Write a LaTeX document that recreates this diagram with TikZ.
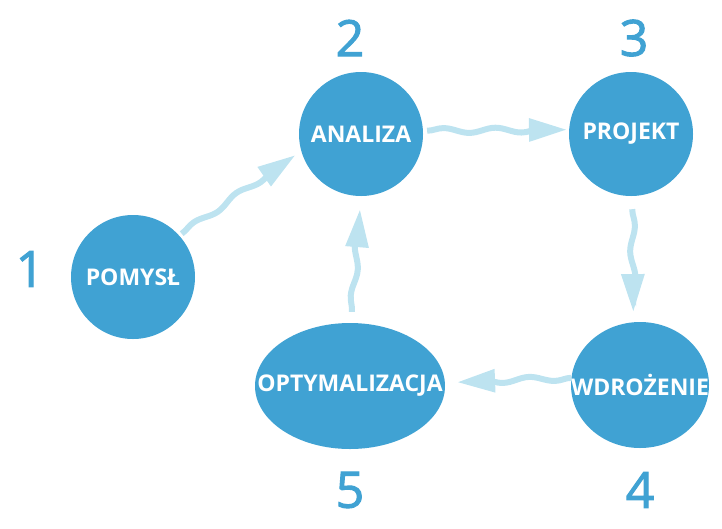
\documentclass[tikz,border=0pt]{standalone}
\usepackage{fontspec}
\setmainfont{Open Sans}
\newfontfamily\numfont{Open Sans}[FakeBold=2]
\usetikzlibrary{shapes.geometric,decorations.pathmorphing,arrows.meta,calc}
\definecolor{nodeblue}{HTML}{40A2D3}
\definecolor{arrowblue}{HTML}{BDE3F0}
\newcommand{\stagetext}[1]{\makebox[0pt]{#1}}
\begin{document}
\begin{tikzpicture}[x=1pt,y=-1pt,
  stage/.style={ellipse,fill=nodeblue,inner sep=0pt,text=white,
    font=\fontsize{23}{23}\selectfont\bfseries},
  num/.style={text=nodeblue,inner sep=0pt,font=\fontsize{50}{50}\selectfont\numfont},
  arr/.style={draw=arrowblue,line width=6pt,decorate,
    decoration={snake,amplitude=2.5pt,segment length=52pt,post length=4pt},
    -{Triangle[length=38pt,width=22pt]}}]
\useasboundingbox (0,0) rectangle (722,528);
\node[stage,minimum width=124pt,minimum height=124pt] (p1) at (133,277) {\stagetext{POMYSŁ}};
\node[stage,minimum width=124pt,minimum height=124pt] (p2) at (361,134) {\stagetext{ANALIZA}};
\node[stage,minimum width=124pt,minimum height=124pt] (p3) at (631,134) {\stagetext{PROJEKT}};
\node[stage,minimum width=138pt,minimum height=126pt] (p4) at (640,385) {\stagetext{WDROŻENIE}};
\node[stage,minimum width=190pt,minimum height=126pt] (p5) at (350,386) {\stagetext{OPTYMALIZACJA}};
\node[num] (n1) at (30,269) {1};
\node[num] (n2) at (350,38) {2};
\node[num] (n3) at (634,38) {3};
\node[num] (n4) at (640,490) {4};
\node[num] (n5) at (350,490) {5};
\draw[arr] ($(p1.42)!3pt!(p2.196)$) -- ($(p2.196)!7pt!(p1.42)$);
\draw[arr] ($(p2.3)!4pt!(p3.176)$) -- ($(p3.176)!2pt!(p2.3)$);
\draw[arr] ($(p3.-89)!13pt!(p4.96)$) -- ($(p4.96)!10pt!(p3.-89)$);
\draw[arr] ($(p4.174)!0pt!(p5.2)$) -- ($(p5.2)!12pt!(p4.174)$);
\draw[arr] ($(p5.89)!11pt!(p2.-90)$) -- ($(p2.-90)!13pt!(p5.89)$);
\end{tikzpicture}
\end{document}
